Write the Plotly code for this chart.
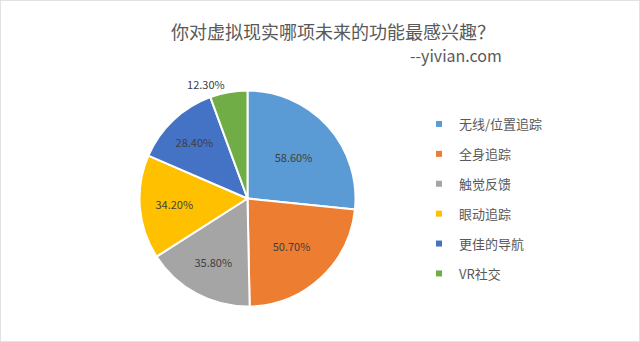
import plotly.graph_objects as go

categories = ["无线/位置追踪", "全身追踪", "触觉反馈", "眼动追踪", "更佳的导航", "VR社交"]
values = [58.6, 50.7, 35.8, 34.2, 28.4, 12.3]
colors = ["#5B9BD5", "#ED7D31", "#A5A5A5", "#FFC000", "#4472C4", "#70AD47"]
title_text = "你对虚拟现实哪项未来的功能最感兴趣？"
subtitle_text = "--yivian.com"

W, H = 640, 342
FONT = "Noto Sans CJK SC, Noto Sans, sans-serif"

fig = go.Figure()

cx, cy, r = 247.5, 198.5, 108
fig.add_trace(go.Pie(
    labels=categories,
    values=values,
    sort=False,
    direction="clockwise",
    rotation=0,
    marker=dict(colors=colors, line=dict(color="white", width=2)),
    texttemplate="%{value:.2f}%",
    textposition=["inside"] * 5 + ["outside"],
    insidetextorientation="horizontal",
    textfont=dict(family=FONT, size=11, color="#404040"),
    outsidetextfont=dict(family=FONT, size=11, color="#404040"),
    domain=dict(x=[(cx - r) / W, (cx + r) / W], y=[(H - cy - r) / H, (H - cy + r) / H]),
    showlegend=False,
    hoverinfo="label+value",
))

for name, col in zip(categories, colors):
    fig.add_trace(go.Scatter(
        x=[None], y=[None], mode="markers", name=name, legendgroup=name,
        marker=dict(symbol="square", size=6, color=col),
    ))

fig.update_layout(
    width=W, height=H,
    margin=dict(l=0, r=0, t=0, b=0),
    paper_bgcolor="white", plot_bgcolor="white",
    xaxis=dict(visible=False), yaxis=dict(visible=False),
    legend=dict(
        x=419 / W, y=(H - 109) / H, xanchor="left", yanchor="top",
        font=dict(family=FONT, size=13, color="#595959"),
        tracegroupgap=10, bgcolor="rgba(0,0,0,0)",
    ),
    annotations=[
        dict(text=title_text, x=333 / W, y=(H - 31) / H, xref="paper", yref="paper",
             xanchor="center", yanchor="middle", showarrow=False,
             font=dict(family=FONT, size=18, color="#595959")),
        dict(text=subtitle_text, x=504 / W, y=(H - 55) / H, xref="paper", yref="paper",
             xanchor="right", yanchor="middle", showarrow=False,
             font=dict(family=FONT, size=16, color="#595959")),
    ],
    shapes=[dict(type="rect", xref="paper", yref="paper", x0=0, y0=0, x1=1, y1=1,
                 line=dict(color="#D9D9D9", width=1.5))],
)

fig.write_html("out.html")
